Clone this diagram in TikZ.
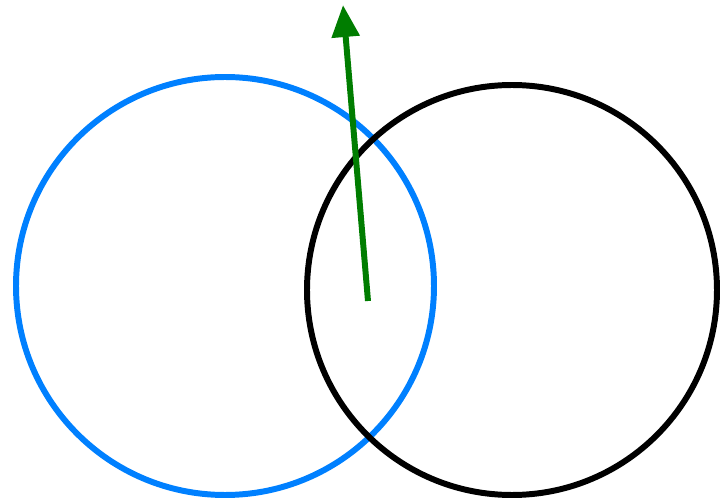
\documentclass[tikz,border=0pt]{standalone}
\usepackage{tikz}
\usetikzlibrary{arrows.meta}
\definecolor{myblue}{RGB}{0,128,255}
\definecolor{mygreen}{RGB}{0,125,0}
\tikzset{
  ring/.style={line width=1.7pt},
  vecarrow/.style={-{Triangle[length=0.32cm, width=0.27cm]}, line width=1.7pt, color=mygreen}
}
\begin{document}
\begin{tikzpicture}
  \useasboundingbox (0,0) rectangle (7.21,4.99);
  \coordinate (cblue) at (2.25,2.13);
  \coordinate (cblack) at (5.12,2.09);
  \coordinate (tail) at (3.68,1.98);
  \coordinate (tip) at (3.43,4.94);
  \draw[ring, myblue] (cblue) circle (2.09);
  \draw[ring, black] (cblack) circle (2.05);
  \draw[vecarrow] (tail) -- (tip);
\end{tikzpicture}
\end{document}
